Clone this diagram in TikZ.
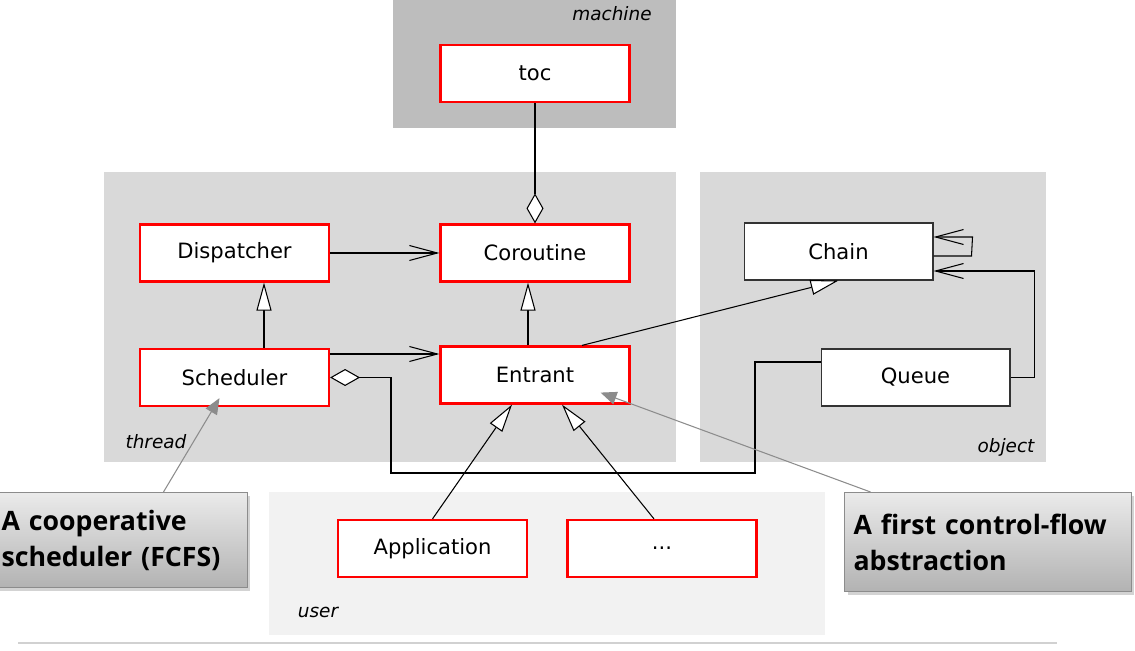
\documentclass[tikz,border=0pt]{standalone}
\usepackage{fontspec}
\setmainfont{DejaVu Sans}
\newfontfamily\notefont{Open Sans}
\usepackage{tikz}
\usetikzlibrary{positioning,arrows.meta,calc,shadows}

\begin{document}
\begin{tikzpicture}[x=0.02cm,y=-0.02cm,
		cls/.style={draw=red,line width=1.25pt,fill=white,minimum width=3.78cm,minimum height=1.14cm,font=\fontsize{12}{14}\selectfont},
		plaincls/.style={draw=black!80,line width=0.6pt,fill=white,minimum width=3.78cm,minimum height=1.14cm,font=\fontsize{12}{14}\selectfont},
		pkglabel/.style={font=\fontsize{10.5}{12}\selectfont\itshape},
		assoc/.style={line width=0.6pt,-{Straight Barb[length=0.56cm,width=0.3cm,line width=0.6pt]}},
		inherit/.style={line width=0.6pt,-{Triangle[open,fill=white,length=0.56cm,width=0.3cm,line width=0.6pt]}},
		aggr/.style={line width=0.6pt,-{Diamond[open,fill=white,length=0.6cm,width=0.34cm,line width=0.6pt]}},
		note/.style={draw=black!45,line width=0.6pt,top color=black!8,bottom color=black!30,drop shadow={opacity=0.35,shadow xshift=0.06cm,shadow yshift=-0.06cm},align=left,inner sep=0.18cm,font=\notefont\bfseries\fontsize{15.2}{20.5}\selectfont},
		callarr/.style={draw=black!45,line width=0.6pt,-{Triangle[length=0.32cm,width=0.26cm]}}]
		\useasboundingbox (0,0) rectangle (1135,651);

		% Packages
		\fill[black!26] (393,0) rectangle (676,128);
		\fill[black!15] (104,172) rectangle (676,462);
		\fill[black!15] (700,172) rectangle (1046,462);
		\fill[black!5] (269,492) rectangle (825,635);
		\draw[black!18,line width=1.2pt] (18,643) -- (1057,643);

		\node[pkglabel] (lmachine) at (612,14) {machine};
		\node[pkglabel] (lthread) at (156,442) {thread};
		\node[pkglabel] (lobject) at (1006,447) {object};
		\node[pkglabel] (luser) at (318,612) {user};

		% Classes
		\node[cls] (toc) at (535,73.5) {toc};
		\node[cls] (disp) at (234.5,253) {Dispatcher};
		\node[cls] (cor) at (535,253) {Coroutine};
		\node[cls] (sched) at (234.5,377.5) {Scheduler};
		\node[cls] (ent) at (535,375) {Entrant};
		\node[plaincls] (chain) at (838.5,251.5) {Chain};
		\node[plaincls] (queue) at (915.5,377.5) {Queue};
		\node[cls] (app) at (432.5,548.5) {Application};
		\node[cls] (dots) at (662,548.5) {...};

		% Relations
		\draw[aggr] (toc) -- (cor);
		\draw[assoc] (disp) -- (cor);
		\draw[inherit] ([xshift=0.59cm]sched.north) -- ([xshift=0.59cm]disp.south);
		\draw[inherit] ([xshift=-0.14cm]ent.north) -- ([xshift=-0.14cm]cor.south);
		\coordinate (s1) at ($(sched.east)+(0,-23.5)$);
		\draw[assoc] (s1) -- (s1 -| ent.west);
		\coordinate (q1) at ($(queue.west)+(0,-15.5)$);
		\draw[aggr] (q1) -- (755,362) -- (755,473) -- (391,473) -- (391,377.5) -- (sched.east);
		\draw[inherit] ([xshift=0.94cm]ent.north) -- (chain.south);
		\draw[assoc] ([yshift=-0.09cm]chain.east) -- ++(38,0) -- ++(1,-19) -- ([yshift=0.29cm]chain.east);
		\draw[assoc] (queue.east) -- ++(24,0) |- ([yshift=-0.39cm]chain.east);
		\draw[inherit] (app.north) -- ([xshift=-0.46cm]ent.south);
		\draw[inherit] ([xshift=-0.16cm]dots.north) -- ([xshift=0.54cm]ent.south);

		% Notes
		\node[note,text width=4.74cm,minimum height=1.9cm,anchor=north west] (noteA) at (-8,492) {A cooperative\\scheduler (FCFS)};
		\node[note,text width=5.38cm,minimum height=1.98cm,anchor=north west] (noteB) at (844,492) {A first control-flow\\abstraction};
		\draw[callarr] ([xshift=0.87cm]noteA.north) -- ([xshift=-0.3cm,yshift=0.18cm]sched.south);
		\draw[callarr] ([xshift=-2.35cm]noteB.north) -- ([xshift=-0.6cm,yshift=0.24cm]ent.south east);
	\end{tikzpicture}
\end{document}
